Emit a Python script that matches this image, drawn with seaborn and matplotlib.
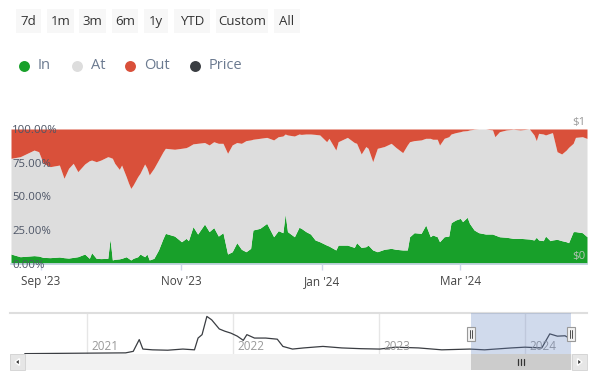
import pandas as pd
import numpy as np
import matplotlib
matplotlib.use("Agg")
import matplotlib.pyplot as plt
import matplotlib.dates as mdates
from matplotlib.patches import Rectangle, Polygon
import seaborn as sns

# ---- main chart data (percent of holders) ----
dates = ["2023-08-19", "2023-08-23", "2023-08-29", "2023-08-31", "2023-09-02", "2023-09-05",
         "2023-09-09", "2023-09-11", "2023-09-13", "2023-09-15", "2023-09-17", "2023-09-20",
         "2023-09-22", "2023-09-23", "2023-09-25", "2023-09-27", "2023-09-30", "2023-10-01",
         "2023-10-02", "2023-10-03", "2023-10-05", "2023-10-06", "2023-10-08", "2023-10-09",
         "2023-10-10", "2023-10-11", "2023-10-13", "2023-10-14", "2023-10-16", "2023-10-17",
         "2023-10-18", "2023-10-20", "2023-10-22", "2023-10-24", "2023-10-25", "2023-10-29",
         "2023-11-01", "2023-11-03", "2023-11-04", "2023-11-06", "2023-11-08", "2023-11-11",
         "2023-11-13", "2023-11-15", "2023-11-17", "2023-11-19", "2023-11-21", "2023-11-23",
         "2023-11-25", "2023-11-27", "2023-11-29", "2023-12-01", "2023-12-02", "2023-12-05",
         "2023-12-08", "2023-12-11", "2023-12-13", "2023-12-15", "2023-12-16", "2023-12-17",
         "2023-12-20", "2023-12-22", "2023-12-23", "2023-12-25", "2023-12-27", "2023-12-29",
         "2023-12-31", "2024-01-03", "2024-01-04", "2024-01-07", "2024-01-08", "2024-01-12",
         "2024-01-15", "2024-01-16", "2024-01-18", "2024-01-20", "2024-01-21", "2024-01-23",
         "2024-01-25", "2024-01-28", "2024-01-31", "2024-02-02", "2024-02-05", "2024-02-07",
         "2024-02-08", "2024-02-10", "2024-02-13", "2024-02-15", "2024-02-17", "2024-02-18",
         "2024-02-20", "2024-02-21", "2024-02-23", "2024-02-25", "2024-02-26", "2024-02-28",
         "2024-03-01", "2024-03-02", "2024-03-04", "2024-03-05", "2024-03-07", "2024-03-09",
         "2024-03-12", "2024-03-15", "2024-03-16", "2024-03-18", "2024-03-21", "2024-03-24",
         "2024-03-27", "2024-03-31", "2024-04-02", "2024-04-03", "2024-04-04", "2024-04-06",
         "2024-04-07", "2024-04-09", "2024-04-10", "2024-04-12", "2024-04-14", "2024-04-16",
         "2024-04-17", "2024-04-19", "2024-04-20", "2024-04-23", "2024-04-25"]

in_pct = [7.4, 5.4, 6.2, 5.9, 4.9, 4.7, 5.2, 4.7, 4.4, 4.9, 5.4, 7.4,
          4.2, 8.4, 4.2, 4.0, 4.2, 18.5, 3.0, 3.5, 3.8, 4.2, 5.4, 4.2,
          3.0, 4.2, 5.4, 7.4, 5.4, 7.4, 3.0, 4.2, 10.4, 19.0, 22.7, 20.7,
          16.5, 19.0, 17.3, 27.7, 22.2, 29.6, 24.0, 27.0, 20.7, 23.2, 7.4, 9.1,
          15.8, 10.9, 9.1, 11.6, 25.2, 26.4, 30.1, 20.2, 24.7, 23.2, 37.0, 24.0,
          20.2, 27.2, 26.4, 24.0, 22.2, 17.8, 16.5, 14.0, 13.3, 10.4, 14.0, 14.0,
          12.3, 15.8, 12.3, 12.8, 14.0, 10.4, 9.1, 10.9, 11.6, 10.9, 10.4, 10.4,
          20.2, 23.2, 22.7, 28.9, 20.2, 21.5, 20.2, 16.5, 20.2, 20.7, 30.6, 32.6,
          33.8, 31.4, 34.6, 30.1, 25.2, 23.2, 22.2, 22.2, 21.5, 20.2, 19.8, 19.0,
          19.0, 18.5, 17.8, 19.8, 17.8, 17.3, 20.7, 17.3, 17.8, 18.3, 17.3, 16.5,
          15.8, 24.0, 24.0, 23.2, 20.2]

out_pct = [21.7, 20.5, 15.6, 16.8, 25.4, 27.9, 26.7, 36.5, 29.1, 25.4, 31.6, 25.9,
           23.5, 23.0, 24.2, 23.0, 20.5, 21.0, 21.7, 25.4, 29.9, 26.7, 35.3, 40.0,
           44.0, 41.5, 35.3, 32.8, 25.9, 29.0, 34.0, 29.1, 23.0, 16.8, 14.3, 15.0,
           14.3, 13.8, 13.0, 11.0, 10.6, 10.0, 11.8, 9.4, 10.6, 10.6, 18.0, 11.8,
           10.0, 10.6, 8.6, 8.1, 7.6, 6.9, 6.2, 8.1, 5.7, 5.2, 3.7, 4.4,
           5.2, 3.7, 4.0, 3.7, 3.7, 4.0, 4.4, 9.4, 6.9, 15.6, 9.4, 6.2,
           10.0, 10.6, 18.5, 13.0, 14.3, 24.2, 14.3, 13.0, 10.6, 13.6, 17.5, 11.8,
           9.4, 8.6, 8.1, 6.9, 6.9, 7.6, 7.6, 11.9, 6.9, 5.7, 3.7, 2.7,
           2.0, 1.5, 1.2, 0.7, 0.2, 0.0, 0.0, 0.7, 5.7, 2.0, 0.7, 0.2,
           0.7, 0.0, 4.4, 8.6, 3.2, 3.7, 4.4, 3.2, 2.7, 16.8, 18.5, 15.6,
           13.6, 10.6, 6.2, 5.7, 7.0]

# ---- navigator price series ($) ----
price_dates = ["2020-07-30", "2021-04-08", "2021-04-27", "2021-05-12", "2021-05-21", "2021-06-14",
               "2021-07-22", "2021-08-29", "2021-09-27", "2021-10-06", "2021-10-16", "2021-10-28",
               "2021-11-09", "2021-11-28", "2021-12-12", "2021-12-27", "2022-01-12", "2022-01-27",
               "2022-02-05", "2022-02-24", "2022-03-24", "2022-04-22", "2022-05-06", "2022-05-30",
               "2022-06-27", "2022-08-14", "2022-09-30", "2022-11-17", "2023-01-03", "2023-02-11",
               "2023-04-10", "2023-06-07", "2023-08-16", "2023-09-22", "2023-11-28", "2024-01-01",
               "2024-02-12", "2024-03-03", "2024-03-22", "2024-04-10", "2024-04-25"]
price = [0.01, 0.03, 0.07, 0.38, 0.13, 0.11, 0.10, 0.13, 0.11, 0.42, 0.51, 0.99,
         0.90, 0.66, 0.60, 0.55, 0.47, 0.36, 0.51, 0.42, 0.42, 0.39, 0.20, 0.13,
         0.16, 0.20, 0.16, 0.14, 0.13, 0.18, 0.16, 0.11, 0.13, 0.11, 0.16, 0.18,
         0.16, 0.53, 0.47, 0.48, 0.39]

tick_dates = ["2023-09-01", "2023-11-01", "2024-01-01", "2024-03-01"]
tick_labels = ["Sep '23", "Nov '23", "Jan '24", "Mar '24"]
year_dates = ["2021-01-01", "2022-01-01", "2023-01-01", "2024-01-01"]
year_labels = ["2021", "2022", "2023", "2024"]
pct_ticks = [0, 25, 50, 75, 100]
pct_labels = ["0.00%", "25.00%", "50.00%", "75.00%", "100.00%"]
buttons = ["7d", "1m", "3m", "6m", "1y", "YTD", "Custom", "All"]
legend_names = ["In", "At", "Out", "Price"]

C_IN, C_AT, C_OUT, C_PRICE = "#18a02a", "#dddddd", "#d9503a", "#3a3d42"

sns.set_theme(style="white")
plt.rcParams["font.family"] = ["Open Sans", "DejaVu Sans"]

df = pd.DataFrame({"date": pd.to_datetime(dates), "In": in_pct, "Out": out_pct})
df["At"] = 100 - df["In"] - df["Out"]
pr = pd.DataFrame({"date": pd.to_datetime(price_dates), "price": price})

W, H = 600, 381
fig = plt.figure(figsize=(W / 100, H / 100), dpi=100)


def px_axes(x0, y0, x1, y1, **kw):
    return fig.add_axes([x0 / W, 1 - y1 / H, (x1 - x0) / W, (y1 - y0) / H], **kw)


# ---- main stacked percent area ----
ax = px_axes(11, 129, 587, 264)
lo = np.zeros(len(df))
for col, c in [("In", C_IN), ("At", C_AT), ("Out", C_OUT)]:
    hi = lo + df[col].values
    ax.fill_between(df["date"], lo, hi, color=c, lw=0)
    lo = hi
ax.set_axisbelow(False)
ax.set_xlim(df["date"].min(), df["date"].max())
ax.set_ylim(0, 100)
for s in ["top", "left", "right"]:
    ax.spines[s].set_visible(False)
ax.spines["bottom"].set_color("#ccd6eb")
ax.set_xticks(pd.to_datetime(tick_dates))
ax.set_xticklabels(tick_labels, fontsize=8.5, color="#444444")
ax.tick_params(axis="x", length=4, width=1, color="#ccd6eb", pad=4, bottom=True)
ax.set_yticks(pct_ticks)
ax.set_yticklabels(pct_labels, fontsize=8.2, color="#4d5566")
ax.tick_params(axis="y", length=0, pad=-1)
for lab in ax.get_yticklabels():
    lab.set_horizontalalignment("left")
ax.text(0.997, 1.01, "$1", transform=ax.transAxes, ha="right", va="bottom",
        fontsize=8.2, color="#999999")
ax.text(0.997, 0.015, "$0", transform=ax.transAxes, ha="right", va="bottom",
        fontsize=8.2, color="#b8c4b8")

# ---- navigator ----
nav = px_axes(10, 313, 587, 354)
nav.set_xlim(pd.Timestamp("2020-06-23"), pd.Timestamp("2024-06-04"))
nav.set_ylim(0, 1.08)
for d in pd.to_datetime(year_dates):
    nav.axvline(d, color="#e6e6e6", lw=1, zorder=0)
for d, lab in zip(pd.to_datetime(year_dates), year_labels):
    nav.annotate(lab, (d, 0.2), xytext=(3, 0), textcoords="offset points",
                 ha="left", va="center", fontsize=8.5, color="#999999")
sns.lineplot(data=pr, x="date", y="price", ax=nav, color=C_PRICE, lw=0.9)
nav.axvspan(df["date"].min(), df["date"].max(), color=(102 / 255, 133 / 255, 194 / 255),
            alpha=0.3, lw=0, zorder=3)
nav.set_xlabel("")
nav.set_ylabel("")
nav.set_xticks([])
nav.set_yticks([])
for s in ["left", "right", "bottom"]:
    nav.spines[s].set_visible(False)
nav.spines["top"].set_color("#dedede")
nav.spines["top"].set_linewidth(1.5)
nav.patch.set_alpha(0)

# ---- overlay for UI bits (buttons, legend, scrollbar) ----
ui = fig.add_axes([0, 0, 1, 1], zorder=5)
ui.set_xlim(0, W)
ui.set_ylim(H, 0)
ui.axis("off")
ui.patch.set_alpha(0)

btn_x = [(16, 41), (47, 74), (79, 106), (112, 138), (144, 168), (174, 210), (216, 268), (274, 300)]
for (x0, x1), b in zip(btn_x, buttons):
    ui.add_patch(Rectangle((x0, 9), x1 - x0, 24, fc="#f7f7f7", ec="none"))
    ui.text((x0 + x1) / 2, 21.5, b, ha="center", va="center", fontsize=9.5, color="#333333")

leg_x = [24, 77, 130, 195]
for x, name, c in zip(leg_x, legend_names, [C_IN, C_AT, C_OUT, C_PRICE]):
    ui.scatter([x], [66], s=62, color=c, lw=0)
    ui.text(x + 14, 65.5, name, ha="left", va="center", fontsize=10.5, color="#6b7a90")

# scrollbar
ui.add_patch(Rectangle((10, 354), 577, 16, fc="#f2f2f2", ec="none"))
x_a = nav.transData.transform((mdates.date2num(df["date"].min()), 0))[0]
x_b = nav.transData.transform((mdates.date2num(df["date"].max()), 0))[0]
ui.add_patch(Rectangle((x_a, 354), x_b - x_a, 16, fc="#cccccc", ec="none"))
cx = (x_a + x_b) / 2
for dx in (-3, 0, 3):
    ui.plot([cx + dx, cx + dx], [359, 365], color="#333333", lw=0.9)
for bx in (10, 572):
    ui.add_patch(Rectangle((bx, 354), 15, 16, fc="#e6e6e6", ec="#cccccc", lw=0.5))
ui.add_patch(Polygon([(19.5, 358.5), (19.5, 365.5), (15, 362)], closed=True, fc="#333333"))
ui.add_patch(Polygon([(577.5, 358.5), (577.5, 365.5), (582, 362)], closed=True, fc="#333333"))

# navigator handles
for hx in (x_a, x_b):
    ui.add_patch(Rectangle((hx - 4, 327), 8, 14, fc="#f2f2f2", ec="#999999", lw=0.8))
    for dx in (-1.2, 1.2):
        ui.plot([hx + dx, hx + dx], [330, 338], color="#333333", lw=0.6)

fig.savefig("out.png", dpi=100)
